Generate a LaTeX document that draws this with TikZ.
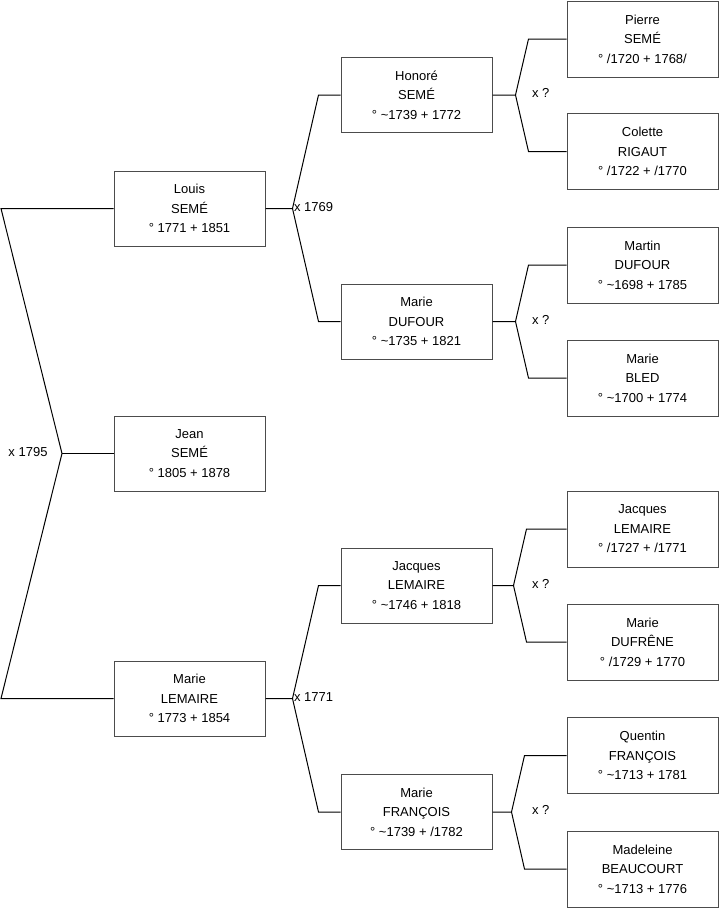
\documentclass[tikz,border=0pt]{standalone}
\usepackage{fontspec}
\setmainfont{Liberation Sans}
\usetikzlibrary{positioning}
\usetikzlibrary{calc}

\begin{document}
\begin{tikzpicture}[x=1pt, y=-1pt, line width=1pt,
			person/.style={draw=black!70, minimum width=151pt, minimum height=75pt,
							inner sep=0pt, align=center, font=\fontsize{13}{19.5}\selectfont},
			wed/.style={anchor=west, inner sep=0pt, font=\fontsize{13}{15}\selectfont}]

		\useasboundingbox (0,0) rectangle (719,908);

		% generation 1
		\node[person] (louis) at (189.5,208.5) {Louis\\SEMÉ\\° 1771 + 1851};
		\node[person] (jean) at (189.5,453.5) {Jean\\SEMÉ\\° 1805 + 1878};
		\node[person] (marieL) at (189.5,698.5) {Marie\\LEMAIRE\\° 1773 + 1854};

		% generation 2
		\node[person] (honore) at (416.5,95) {Honoré\\SEMÉ\\° \textasciitilde1739 + 1772};
		\node[person] (marieD) at (416.5,321.5) {Marie\\DUFOUR\\° \textasciitilde1735 + 1821};
		\node[person] (jacquesL) at (416.5,585.5) {Jacques\\LEMAIRE\\° \textasciitilde1746 + 1818};
		\node[person] (marieF) at (416.5,812) {Marie\\FRANÇOIS\\° \textasciitilde1739 + /1782};

		% generation 3
		\begin{scope}[person/.append style={minimum height=76pt}]
			\node[person] (pierre) at (642.5,39) {Pierre\\SEMÉ\\° /1720 + 1768/};
			\node[person] (colette) at (642.5,151.5) {Colette\\RIGAUT\\° /1722 + /1770};
			\node[person] (martin) at (642.5,265) {Martin\\DUFOUR\\° \textasciitilde1698 + 1785};
			\node[person] (marieB) at (642.5,378) {Marie\\BLED\\° \textasciitilde1700 + 1774};
			\node[person] (jacquesP) at (642.5,529) {Jacques\\LEMAIRE\\° /1727 + /1771};
			\node[person] (marieDu) at (642.5,642) {Marie\\DUFRÊNE\\° /1729 + 1770};
			\node[person] (quentin) at (642.5,755.5) {Quentin\\FRANÇOIS\\° \textasciitilde1713 + 1781};
			\node[person] (madeleine) at (642.5,869) {Madeleine\\BEAUCOURT\\° \textasciitilde1713 + 1776};
		\end{scope}

		% root fork
		\coordinate (fj) at (62,453.5);
		\coordinate (cl) at (1,208.5);
		\coordinate (cm) at (1,698.5);
		\draw (louis.west) -- (cl) -- (fj) -- (cm) -- (marieL.west);
		\draw (fj) -- (jean.west);
		\node[wed] (w1795) at (8,452) {x 1795};

		% generation 1 forks
		\coordinate (fl) at ($(louis.east)+(27,0)$);
		\draw (louis.east) -- (fl) -- ($(honore.west)+(-22,0)$) -- (honore.west);
		\draw (fl) -- ($(marieD.west)+(-22,0)$) -- (marieD.west);
		\node[wed] (w1769) at ($(fl)+(1,-1)$) {x 1769};

		\coordinate (fm) at ($(marieL.east)+(27,0)$);
		\draw (marieL.east) -- (fm) -- ($(jacquesL.west)+(-22,0)$) -- (jacquesL.west);
		\draw (fm) -- ($(marieF.west)+(-22,0)$) -- (marieF.west);
		\node[wed] (w1771) at ($(fm)+(1,-1)$) {x 1771};

		% generation 2 forks
		\coordinate (fh) at ($(honore.east)+(23,0)$);
		\draw (honore.east) -- (fh) -- ($(pierre.west)+(-38,0)$) -- (pierre.west);
		\draw (fh) -- ($(colette.west)+(-38,0)$) -- (colette.west);
		\node[wed] (wh) at ($(fh)+(16,-2)$) {x ?};

		\coordinate (fd) at ($(marieD.east)+(23,0)$);
		\draw (marieD.east) -- (fd) -- ($(martin.west)+(-38,0)$) -- (martin.west);
		\draw (fd) -- ($(marieB.west)+(-38,0)$) -- (marieB.west);
		\node[wed] (wd) at ($(fd)+(16,-2)$) {x ?};

		\coordinate (fjl) at ($(jacquesL.east)+(21,0)$);
		\draw (jacquesL.east) -- (fjl) -- ($(jacquesP.west)+(-40,0)$) -- (jacquesP.west);
		\draw (fjl) -- ($(marieDu.west)+(-40,0)$) -- (marieDu.west);
		\node[wed] (wjl) at ($(fjl)+(18,-2)$) {x ?};

		\coordinate (ff) at ($(marieF.east)+(19,0)$);
		\draw (marieF.east) -- (ff) -- ($(quentin.west)+(-42,0)$) -- (quentin.west);
		\draw (ff) -- ($(madeleine.west)+(-42,0)$) -- (madeleine.west);
		\node[wed] (wf) at ($(ff)+(20,-2)$) {x ?};
	\end{tikzpicture}
\end{document}
